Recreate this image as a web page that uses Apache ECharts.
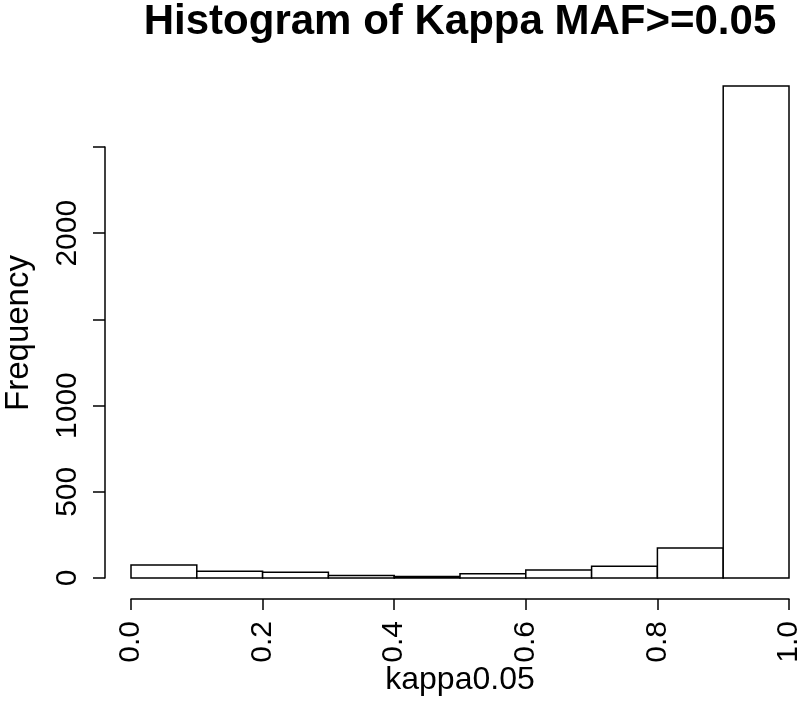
<!DOCTYPE html>
<html>
<head>
<meta charset="utf-8">
<script src="https://cdn.jsdelivr.net/npm/echarts@6/dist/echarts.min.js"></script>
<style>html,body{margin:0;padding:0;background:#fff}#c{width:800px;height:702px}</style>
</head>
<body>
<div id="c"></div>
<script>
const binStarts = [0.0, 0.1, 0.2, 0.3, 0.4, 0.5, 0.6, 0.7, 0.8, 0.9];
const binEnds   = [0.1, 0.2, 0.3, 0.4, 0.5, 0.6, 0.7, 0.8, 0.9, 1.0];
const counts    = [76, 39, 33, 15, 8, 25, 46, 68, 174, 2854];
const yTickValues = [0, 500, 1000, 1500, 2000, 2500];
const yTickLabels = ['0', '500', '1000', '', '2000', ''];
const xTickLabels = ['0.0', '0.2', '0.4', '0.6', '0.8', '1.0'];

const FONT = '"Liberation Sans", Arial, sans-serif';
const chart = echarts.init(document.getElementById('c'), null, {renderer: 'canvas'});
const data = binStarts.map((s, i) => [s, binEnds[i], counts[i]]);

chart.setOption({
  animation: false,
  backgroundColor: '#fff',
  title: {
    text: 'Histogram of Kappa MAF>=0.05',
    left: 455, top: -4, textAlign: 'center',
    textStyle: {fontFamily: FONT, fontWeight: 'bold', fontSize: 42, color: '#000'}
  },
  grid: {left: 131, right: 11, top: 147, bottom: 124, containLabel: false, outerBoundsMode: 'none'},
  xAxis: {
    type: 'value', min: 0, max: 1, interval: 0.2, offset: 21,
    axisLine: {show: true, onZero: false, lineStyle: {color: '#000', width: 1.5}},
    axisTick: {show: true, length: 11, lineStyle: {color: '#000', width: 1.5}},
    axisLabel: {
      rotate: 90, margin: 22, fontSize: 30, fontFamily: FONT, color: '#000',
      formatter: v => xTickLabels[Math.round(v / 0.2)]
    },
    splitLine: {show: false}
  },
  yAxis: {
    type: 'value', min: 0, max: 2500, interval: 500, offset: 26,
    axisLine: {show: true, onZero: false, lineStyle: {color: '#000', width: 1.5}},
    axisTick: {show: true, length: 12, lineStyle: {color: '#000', width: 1.5}},
    axisLabel: {
      rotate: 90, margin: 22, fontSize: 30, fontFamily: FONT, color: '#000',
      formatter: v => yTickLabels[yTickValues.indexOf(v)]
    },
    splitLine: {show: false}
  },
  graphic: [
    {type: 'text', x: 19, y: 333, rotation: Math.PI / 2,
     style: {text: 'Frequency', fontFamily: FONT, fontSize: 33, fill: '#000', align: 'center', verticalAlign: 'middle'}},
    {type: 'text', x: 460, y: 680,
     style: {text: 'kappa0.05', fontFamily: FONT, fontSize: 32, fill: '#000', align: 'center', verticalAlign: 'middle'}}
  ],
  series: [{
    type: 'custom',
    clip: false,
    data: data,
    encode: {x: [0, 1], y: 2},
    renderItem: function (params, api) {
      const p0 = api.coord([api.value(0), api.value(2)]);
      const p1 = api.coord([api.value(1), 0]);
      return {
        type: 'rect',
        shape: {x: p0[0], y: p0[1], width: p1[0] - p0[0], height: p1[1] - p0[1]},
        style: {fill: '#fff', stroke: '#000', lineWidth: 1.5}
      };
    }
  }]
});
</script>
</body>
</html>
